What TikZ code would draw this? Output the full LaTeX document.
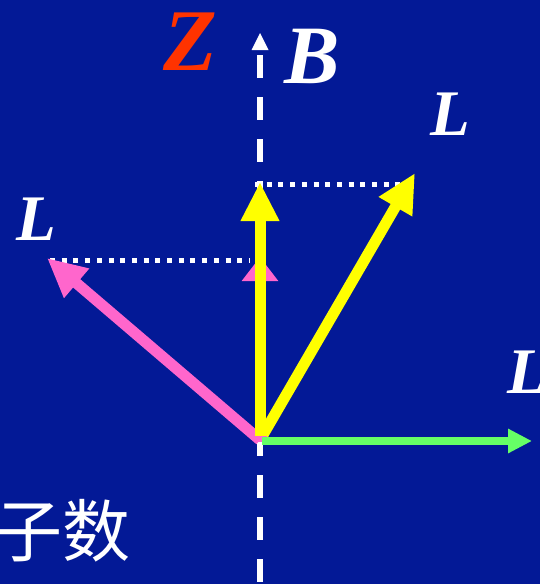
\documentclass[tikz,border=0pt]{standalone}
\usepackage{fontspec}
\setmainfont{Liberation Serif}
\newfontfamily\cjk{Noto Sans CJK SC}
\usetikzlibrary{arrows.meta}
\definecolor{bg}{RGB}{3,25,150}
\definecolor{zred}{RGB}{255,51,0}
\definecolor{lpink}{RGB}{255,102,204}
\definecolor{lyellow}{RGB}{255,255,0}
\definecolor{lgreen}{RGB}{102,255,102}
\tikzset{
  vec/.style={line width=11pt, -{Triangle[length=39pt,width=36pt]}},
  dotline/.style={white, line width=5pt, dash pattern=on 5pt off 6.7pt},
  lab/.style={text=white, font=\fontsize{65}{65}\selectfont\bfseries\itshape, inner sep=0pt, anchor=base},
}
\begin{document}
\begin{tikzpicture}[x=1pt,y=-1pt]
\fill[bg] (0,0) rectangle (540,584);
\useasboundingbox (0,0) rectangle (540,584);
\clip (0,0) rectangle (540,584);
% axis
\coordinate (O) at (260,440);
\coordinate (axtop) at (260,52);
\coordinate (axbot) at (260,584);
\draw[white, line width=6pt, dash pattern=on 23pt off 19pt] (axtop) ++(0,3) -- (axbot);
\fill[white] (260,33) -- (268.5,50) -- (251.5,50) -- cycle;
% tips
\coordinate (Ly) at (260,182);
\coordinate (Ld) at (415,173);
\coordinate (Lp) at (47,258);
\coordinate (Pp) at (260,257);
\coordinate (Lg) at (532,441);
% dotted projections
\draw[dotline] (255,184) -- (413,184);
\draw[dotline] (50,260) -- (250,260);
% vectors
\draw[vec, lpink, -{Triangle[length=24pt,width=35pt]}] (O) -- (Pp);
\draw[vec, lpink] (O) -- (Lp);
\draw[vec, lyellow] (O) -- (Ly);
\draw[vec, lyellow] (O) -- (Ld);
\fill[lpink] (255,436) rectangle (267,442);
\draw[lgreen, line width=8pt, -{Triangle[length=24pt,width=23pt]}] (262,441) -- (Lg);
% labels
\node[lab, text=zred, font=\fontsize{88}{88}\selectfont\bfseries\itshape] (Z) at (190,70) {Z};
\node[lab, font=\fontsize{83}{83}\selectfont\bfseries\itshape] (B) at (312,83) {B};
\node[lab] (L1) at (450,135) {L};
\node[lab] (L2) at (36,240) {L};
\node[lab] (L3) at (527,393) {L};
\node[text=white, font=\cjk\fontsize{68}{68}\selectfont, inner sep=0pt, anchor=base east] (cn) at (131,556) {子数};
\end{tikzpicture}
\end{document}
